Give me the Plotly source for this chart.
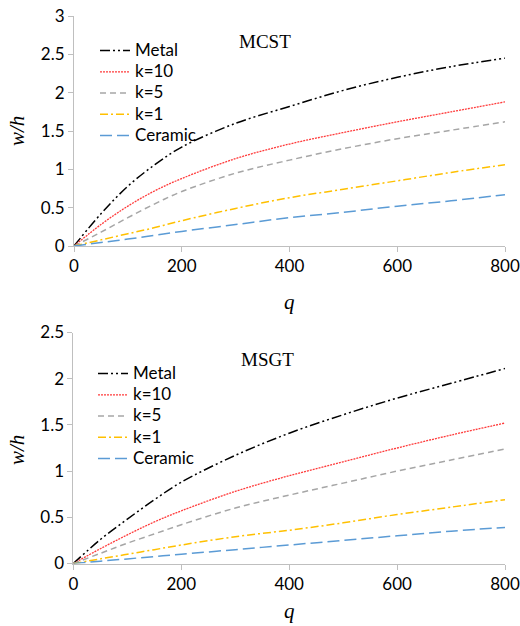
import plotly.graph_objects as go

q = [0, 50, 100, 150, 200, 300, 400, 500, 600, 700, 800]

# MCST panel
mcst_metal = [0, 0.42, 0.78, 1.06, 1.29, 1.60, 1.82, 2.03, 2.20, 2.34, 2.45]
mcst_k10 = [0, 0.28, 0.52, 0.72, 0.88, 1.14, 1.33, 1.48, 1.62, 1.75, 1.88]
mcst_k5 = [0, 0.18, 0.37, 0.55, 0.71, 0.95, 1.12, 1.27, 1.40, 1.51, 1.62]
mcst_k1 = [0, 0.08, 0.16, 0.24, 0.33, 0.49, 0.63, 0.74, 0.85, 0.96, 1.06]
mcst_cer = [0, 0.045, 0.09, 0.14, 0.19, 0.28, 0.37, 0.44, 0.52, 0.59, 0.67]

# MSGT panel
msgt_metal = [0, 0.26, 0.48, 0.69, 0.88, 1.17, 1.41, 1.61, 1.79, 1.95, 2.11]
msgt_k10 = [0, 0.16, 0.31, 0.45, 0.57, 0.78, 0.95, 1.10, 1.25, 1.39, 1.52]
msgt_k5 = [0, 0.11, 0.22, 0.32, 0.42, 0.60, 0.74, 0.87, 1.00, 1.12, 1.24]
msgt_k1 = [0, 0.05, 0.10, 0.15, 0.20, 0.29, 0.36, 0.44, 0.53, 0.61, 0.69]
msgt_cer = [0, 0.025, 0.05, 0.075, 0.10, 0.15, 0.20, 0.25, 0.30, 0.35, 0.39]

names = ["Metal", "k=10", "k=5", "k=1", "Ceramic"]
colors = ["#000000", "#FF3B3B", "#A6A6A6", "#FFC000", "#5B9BD5"]
dashes = ["10px,3px,2px,3px,2px,3px", "2px,1px", "6px,4px", "8px,3px,2px,3px", "12px,5px"]
widths = [1.5, 1.3, 1.5, 1.5, 1.5]

def label(n):
    return '<span style="font-size:17px">' + n + '</span>'

fig = go.Figure()
top = [mcst_metal, mcst_k10, mcst_k5, mcst_k1, mcst_cer]
bot = [msgt_metal, msgt_k10, msgt_k5, msgt_k1, msgt_cer]
for i in range(5):
    fig.add_trace(go.Scatter(x=q, y=top[i], name=label(names[i]), mode="lines",
                             line=dict(color=colors[i], dash=dashes[i], width=widths[i], shape="spline"),
                             xaxis="x", yaxis="y", legend="legend"))
for i in range(5):
    fig.add_trace(go.Scatter(x=q, y=bot[i], name=label(names[i]), mode="lines",
                             line=dict(color=colors[i], dash=dashes[i], width=widths[i], shape="spline"),
                             xaxis="x2", yaxis="y2", legend="legend2"))

W, H = 520, 626
tickfont = dict(family="Lato", size=17, color="#000000")
axcommon = dict(showgrid=False, zeroline=False, showline=True, linecolor="#BFBFBF", linewidth=1,
                ticks="outside", ticklen=5, tickcolor="#BFBFBF", tickfont=tickfont, automargin=False)
legfont = dict(family="Lato", size=14, color="#000000")

fig.update_layout(
    width=W, height=H, margin=dict(l=0, r=0, t=0, b=0),
    paper_bgcolor="white", plot_bgcolor="white",
    xaxis=dict(domain=[74/W, 505/W], range=[0, 800], tickvals=[0, 200, 400, 600, 800], anchor="y", **axcommon),
    yaxis=dict(domain=[1-246/H, 1-16/H], range=[0, 3], tickvals=[0, 0.5, 1, 1.5, 2, 2.5, 3],
               ticktext=["0", "0.5", "1", "1.5", "2", "2.5", "3"], anchor="x", **axcommon),
    xaxis2=dict(domain=[73.4/W, 505/W], range=[0, 800], tickvals=[0, 200, 400, 600, 800], anchor="y2", **axcommon),
    yaxis2=dict(domain=[1-563.5/H, 1-332.5/H], range=[0, 2.5], tickvals=[0, 0.5, 1, 1.5, 2, 2.5],
                ticktext=["0", "0.5", "1", "1.5", "2", "2.5"], anchor="x2", **axcommon),
    legend=dict(x=95/W, y=1-35/H, xanchor="left", yanchor="top", bgcolor="rgba(0,0,0,0)",
                font=legfont, tracegroupgap=0, itemwidth=30),
    legend2=dict(x=93/W, y=1-358/H, xanchor="left", yanchor="top", bgcolor="rgba(0,0,0,0)",
                 font=legfont, tracegroupgap=0, itemwidth=30),
    showlegend=True,
)

serif = dict(family="Liberation Serif", size=19, color="#000000")
axserif = dict(family="Liberation Serif", size=21, color="#000000")
fig.add_annotation(xref="paper", yref="paper", showarrow=False, font=serif,
                   text="MCST", x=265/W, y=1-42/H, xanchor="center", yanchor="middle")
fig.add_annotation(xref="paper", yref="paper", showarrow=False, font=serif,
                   text="MSGT", x=267/W, y=1-359/H, xanchor="center", yanchor="middle")
for yy in [1-302/H, 1-611/H]:
    fig.add_annotation(xref="paper", yref="paper", showarrow=False, font=axserif,
                       text="<i>q</i>", x=289/W, y=yy, xanchor="center", yanchor="middle")
for yy in [1-131/H, 1-450/H]:
    fig.add_annotation(xref="paper", yref="paper", showarrow=False, font=axserif,
                       text="<i>w/h</i>", x=17/W, y=yy, textangle=-90,
                       xanchor="center", yanchor="middle")

fig.write_html("out.html")
